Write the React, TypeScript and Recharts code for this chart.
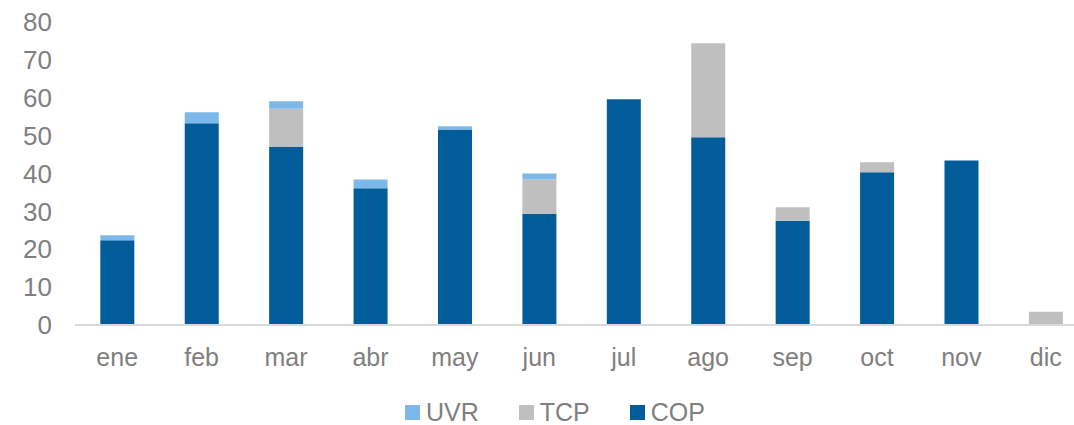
import React from "react";
import { BarChart, Bar, XAxis, YAxis, Legend } from "recharts";

const months = ["ene", "feb", "mar", "abr", "may", "jun", "jul", "ago", "sep", "oct", "nov", "dic"];
const cop = [22.4, 53.3, 47.0, 36.1, 51.6, 29.4, 59.6, 49.6, 27.5, 40.3, 43.4, 0];
const tcp = [0, 0, 10.1, 0, 0, 9.0, 0, 24.8, 3.6, 2.7, 0, 3.5];
const uvr = [1.3, 2.9, 2.0, 2.3, 0.9, 1.6, 0, 0, 0, 0, 0, 0];
const yTicks = [0, 10, 20, 30, 40, 50, 60, 70, 80];

const series = [
  { key: "UVR", color: "#7DB8EB" },
  { key: "TCP", color: "#BFBFBF" },
  { key: "COP", color: "#005D9A" },
];

const data = months.map((m, i) => ({ m, COP: cop[i], TCP: tcp[i], UVR: uvr[i] }));

const FONT = "'Liberation Sans', Arial, sans-serif";
const GRAY = "#7F7F7F";

function LegendContent() {
  return (
    <div style={{ display: "flex", justifyContent: "center", fontFamily: FONT, fontSize: 25, color: GRAY, paddingTop: 13 }}>
      {series.map((s) => (
        <div key={s.key} style={{ display: "flex", alignItems: "center", margin: "0 20px" }}>
          <span style={{ display: "inline-block", width: 15, height: 15, background: s.color, marginRight: 6 }} />
          <span>{s.key}</span>
        </div>
      ))}
    </div>
  );
}

export default function App() {
  return (
    <div style={{ position: "absolute", left: 0, top: 0, width: 1074, height: 425, overflow: "hidden", background: "#fff" }}>
      <BarChart width={1090} height={425} data={data} margin={{ top: 22, right: 2, left: 0, bottom: 0 }} barCategoryGap="30%">
        <XAxis
          dataKey="m"
          axisLine={{ stroke: "#D9D9D9", strokeWidth: 2 }}
          tickLine={false}
          tickSize={0}
          tickMargin={23}
          height={60}
          tick={{ fill: GRAY, fontSize: 25, fontFamily: FONT }}
          interval={0}
        />
        <YAxis
          domain={[0, 80]}
          ticks={yTicks}
          axisLine={false}
          tickLine={false}
          tickSize={0}
          tickMargin={23}
          width={75}
          tick={{ fill: GRAY, fontSize: 26, fontFamily: FONT }}
          interval={0}
        />
        <Bar dataKey="COP" stackId="a" fill="#005D9A" isAnimationActive={false} />
        <Bar dataKey="TCP" stackId="a" fill="#BFBFBF" isAnimationActive={false} />
        <Bar dataKey="UVR" stackId="a" fill="#7DB8EB" isAnimationActive={false} />
        <Legend content={LegendContent} verticalAlign="bottom" height={40} wrapperStyle={{ left: 18, width: 1074 }} />
      </BarChart>
    </div>
  );
}
